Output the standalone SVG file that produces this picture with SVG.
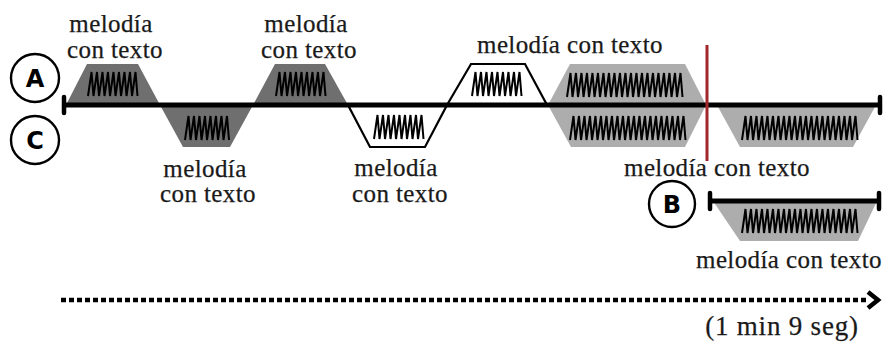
<svg xmlns="http://www.w3.org/2000/svg" width="886" height="343" viewBox="0 0 886 343">
<style>
.dark{fill:#6f6f6f}
.light{fill:#adadad}
.open{fill:#fff;stroke:#000;stroke-width:2.2;stroke-linejoin:miter}
.zz{fill:none;stroke:#000;stroke-width:2;stroke-linejoin:miter}
.lbl{font-family:"Liberation Serif","Times New Roman",serif;font-size:25px;letter-spacing:0.4px;fill:#1a1a1a;stroke:#1a1a1a;stroke-width:0.25;text-anchor:middle}
.circ{fill:#fff;stroke:#000;stroke-width:2.4}
.let{font-family:"DejaVu Sans",sans-serif;font-weight:bold;font-size:24px;fill:#000;text-anchor:middle}
.line{stroke:#000;stroke-width:5;fill:none}
.tick{stroke:#000;stroke-width:4.5;stroke-linecap:round}
</style>
<defs>
<path id="zz8" class="zz" d="M0,0 l3.5,-24 2,24 l3.5,-24 2,24 l3.5,-24 2,24 l3.5,-24 2,24 l3.5,-24 2,24 l3.5,-24 2,24 l3.5,-24 2,24 l3.5,-24 2,24"/>
<path id="zz9" class="zz" d="M0,0 l3.5,-24 2,24 l3.5,-24 2,24 l3.5,-24 2,24 l3.5,-24 2,24 l3.5,-24 2,24 l3.5,-24 2,24 l3.5,-24 2,24 l3.5,-24 2,24 l3.5,-24 2,24"/>
<path id="zz21" class="zz" d="M0,0 l3.5,-24 2,24 l3.5,-24 2,24 l3.5,-24 2,24 l3.5,-24 2,24 l3.5,-24 2,24 l3.5,-24 2,24 l3.5,-24 2,24 l3.5,-24 2,24 l3.5,-24 2,24 l3.5,-24 2,24 l3.5,-24 2,24 l3.5,-24 2,24 l3.5,-24 2,24 l3.5,-24 2,24 l3.5,-24 2,24 l3.5,-24 2,24 l3.5,-24 2,24 l3.5,-24 2,24 l3.5,-24 2,24 l3.5,-24 2,24 l3.5,-24 2,24"/>
</defs>

<g id="seg1">
<polygon class="dark" points="66,105 87,64 138,64 160,105"/>
<use href="#zz9" x="88" y="96"/>
<text class="lbl"><tspan x="111" y="32">melodía</tspan><tspan x="115" y="58">con texto</tspan></text>
</g>
<g id="seg2">
<polygon class="dark" points="160,105 253,105 230,147 183,147"/>
<use href="#zz8" x="185" y="140"/>
<text class="lbl"><tspan x="205" y="177">melodía</tspan><tspan x="208" y="202">con texto</tspan></text>
</g>
<g id="seg3">
<polygon class="dark" points="253,105 275,64 325,64 348,105"/>
<use href="#zz9" x="276" y="96"/>
<text class="lbl"><tspan x="306" y="32">melodía</tspan><tspan x="309" y="58">con texto</tspan></text>
</g>
<g id="seg4">
<polygon class="open" points="348,105 447,105 425,147 370,147"/>
<use href="#zz9" x="374" y="139"/>
<text class="lbl"><tspan x="396" y="176">melodía</tspan><tspan x="400" y="202">con texto</tspan></text>
</g>
<g id="seg5">
<polygon class="open" points="447,105 471,64 525,64 547,105"/>
<use href="#zz9" x="472" y="96"/>
<text class="lbl" x="570" y="53">melodía con texto</text>
</g>
<g id="seg6">
<polygon class="light" points="548,105 570,64 685,64 706,105 685,147 571,147"/>
<use href="#zz21" x="567" y="97"/>
<use href="#zz21" x="570" y="140"/>
</g>
<g id="seg7">
<polygon class="light" points="717,105 876,105 853,147 740,147"/>
<use href="#zz21" x="742" y="140"/>
<text class="lbl" x="717" y="176">melodía con texto</text>
</g>
<g id="segB">
<polygon class="light" points="713,201 877,201 858,241 740,241"/>
<use href="#zz21" x="742" y="233"/>
<text class="lbl" x="789" y="268">melodía con texto</text>
</g>

<g id="connectors">
<line class="line" x1="64" y1="105" x2="880" y2="105"/>
<line class="tick" x1="64" y1="97" x2="64" y2="113"/>
<line class="tick" x1="880" y1="97" x2="880" y2="113"/>
<line x1="707" y1="45" x2="707" y2="161" stroke="#a3262a" stroke-width="3"/>
<line class="line" x1="710" y1="201" x2="879" y2="201"/>
<line class="tick" x1="710" y1="193" x2="710" y2="209"/>
<line class="tick" x1="879" y1="193" x2="879" y2="209"/>
<line x1="61" y1="300" x2="866" y2="300" stroke="#000" stroke-width="4.5" stroke-dasharray="5 3"/>
<polyline points="868,292 878,300 868,308" fill="none" stroke="#000" stroke-width="4.5"/>
</g>

<g id="time">
<text class="lbl" x="782" y="335" style="font-size:27px;letter-spacing:0.8px">(1 min 9 seg)</text>
</g>

<g id="circleA">
<circle class="circ" cx="35" cy="78" r="24"/>
<text class="let" x="35" y="87">A</text>
</g>
<g id="circleC">
<circle class="circ" cx="35" cy="140" r="24"/>
<text class="let" x="35" y="149">C</text>
</g>
<g id="circleB">
<circle class="circ" cx="672" cy="204" r="23"/>
<text class="let" x="672" y="213">B</text>
</g>
</svg>
